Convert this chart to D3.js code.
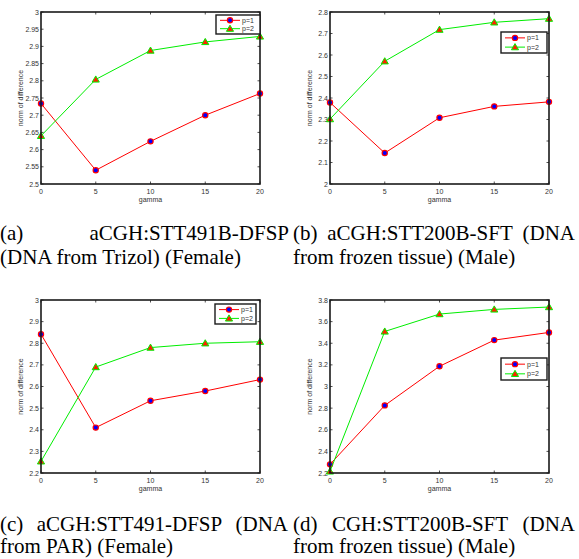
<!DOCTYPE html>
<html>
<head>
<meta charset="utf-8">
<script src="https://cdn.jsdelivr.net/npm/d3@7"></script>
<style>
  body { margin: 0; background: #fff; }
  svg { display: block; }
  .tick-label { font-family: "Liberation Sans", Arial, sans-serif; font-size: 7px; fill: #333; }
  .caption { font-family: "Liberation Serif", "Times New Roman", serif; font-size: 21px; fill: #000; }
</style>
</head>
<body>
<svg id="chart"></svg>
<script>
// x values shared by every panel
const gamma = [0, 5, 10, 15, 20];
const seriesNames = ['p=1', 'p=2'];

// norm of difference
const aP1 = [2.734, 2.540, 2.624, 2.700, 2.763];
const aP2 = [2.640, 2.804, 2.888, 2.913, 2.929];
const bP1 = [2.379, 2.144, 2.308, 2.361, 2.382];
const bP2 = [2.302, 2.571, 2.718, 2.752, 2.769];
const cP1 = [2.842, 2.410, 2.534, 2.579, 2.632];
const cP2 = [2.254, 2.690, 2.780, 2.800, 2.807];
const dP1 = [2.280, 2.825, 3.187, 3.429, 3.500];
const dP2 = [2.215, 3.509, 3.670, 3.713, 3.735];

const yDomains = [[2.5, 3], [2, 2.8], [2.2, 3], [2.2, 3.8]];

const captionLine1 = [
  ['(a)', 'aCGH:STT491B-DFSP'],
  ['(b)', 'aCGH:STT200B-SFT', '(DNA'],
  ['(c)', 'aCGH:STT491-DFSP', '(DNA'],
  ['(d)', 'CGH:STT200B-SFT', '(DNA']
];
const captionLine2 = [
  '(DNA from Trizol) (Female)',
  'from frozen tissue) (Male)',
  'from PAR) (Female)',
  'from frozen tissue) (Male)'
];

const panelData = [[aP1, aP2], [bP1, bP2], [cP1, cP2], [dP1, dP2]];

// layout: plot box, legend box, caption column
const boxes = [
  {x0: 41, x1: 260, y0: 12, y1: 184},
  {x0: 330, x1: 549, y0: 12, y1: 184},
  {x0: 41, x1: 260, y0: 300, y1: 473},
  {x0: 330, x1: 549, y0: 300, y1: 473}
];
const legendBoxes = [
  {x: 216, y: 15, w: 44, h: 19},
  {x: 501, y: 32, w: 46, h: 21},
  {x: 215, y: 304, w: 41, h: 20},
  {x: 501, y: 358, w: 46, h: 22}
];
const captionCols = [
  {x0: 0, x1: 289, y: 240, y2: 264},
  {x0: 293, x1: 575, y: 240, y2: 264},
  {x0: 0, x1: 288, y: 530.5, y2: 553},
  {x0: 293, x1: 575, y: 530.5, y2: 553}
];

const W = 579, H = 559;
const colors = ['#ff0000', '#00ee00'];
const svg = d3.select('#chart').attr('width', W).attr('height', H);

const tri = d3.symbol().type(d3.symbolTriangle).size(22);

function drawMarker(g, i, x, y) {
  if (i === 0) {
    g.append('circle')
      .attr('cx', x).attr('cy', y).attr('r', 2.6)
      .attr('fill', '#0000ff').attr('stroke', '#ff0000').attr('stroke-width', 1.2);
  } else {
    g.append('path')
      .attr('d', tri)
      .attr('transform', `translate(${x},${y + 0.6})`)
      .attr('fill', '#ff2000').attr('stroke', '#00ee00').attr('stroke-width', 1);
  }
}

panelData.forEach((series, p) => {
  const b = boxes[p];
  const x = d3.scaleLinear().domain([0, 20]).range([b.x0, b.x1]);
  const y = d3.scaleLinear().domain(yDomains[p]).range([b.y1, b.y0]);
  const g = svg.append('g');

  const yTicks = y.ticks(10);
  const fmt = d => String(+d.toFixed(2));

  // inward ticks on all four sides
  const tk = 2.5;
  g.selectAll('.xt').data(gamma).enter().append('path')
    .attr('d', d => `M${x(d)},${b.y1}v${-tk}M${x(d)},${b.y0}v${tk}`)
    .attr('stroke', '#222').attr('stroke-width', 0.8);
  g.selectAll('.yt').data(yTicks).enter().append('path')
    .attr('d', d => `M${b.x0},${y(d)}h${tk}M${b.x1},${y(d)}h${-tk}`)
    .attr('stroke', '#222').attr('stroke-width', 0.8);

  g.selectAll('.xl').data(gamma).enter().append('text')
    .attr('class', 'tick-label')
    .attr('x', d => x(d)).attr('y', b.y1 + 9.5)
    .attr('text-anchor', 'middle')
    .text(d => d);
  g.selectAll('.yl').data(yTicks).enter().append('text')
    .attr('class', 'tick-label')
    .attr('x', b.x0 - 2).attr('y', d => y(d) + 2.5)
    .attr('text-anchor', 'end')
    .text(fmt);

  g.append('text')
    .attr('class', 'tick-label')
    .attr('x', (b.x0 + b.x1) / 2).attr('y', b.y1 + 17.5)
    .attr('text-anchor', 'middle')
    .text('gamma');
  g.append('text')
    .attr('class', 'tick-label')
    .attr('transform', `translate(${b.x0 - 18},${(b.y0 + b.y1) / 2}) rotate(-90)`)
    .attr('text-anchor', 'middle')
    .text('norm of difference');

  const line = d3.line().x((d, i) => x(gamma[i])).y(d => y(d));
  series.forEach((vals, i) => {
    g.append('path')
      .datum(vals)
      .attr('d', line)
      .attr('fill', 'none')
      .attr('stroke', colors[i])
      .attr('stroke-width', 1);
    vals.forEach((v, j) => drawMarker(g, i, x(gamma[j]), y(v)));
  });

  g.append('rect')
    .attr('x', b.x0).attr('y', b.y0)
    .attr('width', b.x1 - b.x0).attr('height', b.y1 - b.y0)
    .attr('fill', 'none').attr('stroke', '#1a1a1a').attr('stroke-width', 1.6);

  // legend
  const lb = legendBoxes[p];
  const lg = g.append('g');
  lg.append('rect')
    .attr('x', lb.x).attr('y', lb.y).attr('width', lb.w).attr('height', lb.h)
    .attr('fill', '#fff').attr('stroke', '#1a1a1a').attr('stroke-width', 1.4);
  seriesNames.forEach((name, i) => {
    const ly = lb.y + lb.h * (i === 0 ? 0.28 : 0.72);
    lg.append('line')
      .attr('x1', lb.x + 4).attr('x2', lb.x + 24)
      .attr('y1', ly).attr('y2', ly)
      .attr('stroke', colors[i]).attr('stroke-width', 1);
    drawMarker(lg, i, lb.x + 14, ly);
    lg.append('text')
      .attr('class', 'tick-label')
      .attr('x', lb.x + 26).attr('y', ly + 2.5)
      .text(name);
  });

  // caption: first line justified, second line left aligned
  const cc = captionCols[p];
  const words = captionLine1[p].map(w => svg.append('text')
    .attr('class', 'caption').attr('y', cc.y).text(w));
  const widths = words.map(t => t.node().getComputedTextLength());
  const gap = (cc.x1 - cc.x0 - d3.sum(widths)) / (words.length - 1);
  let cx = cc.x0;
  words.forEach((t, i) => {
    t.attr('x', cx);
    cx += widths[i] + gap;
  });
  svg.append('text')
    .attr('class', 'caption')
    .attr('x', cc.x0).attr('y', cc.y2)
    .text(captionLine2[p]);
});
</script>
</body>
</html>
